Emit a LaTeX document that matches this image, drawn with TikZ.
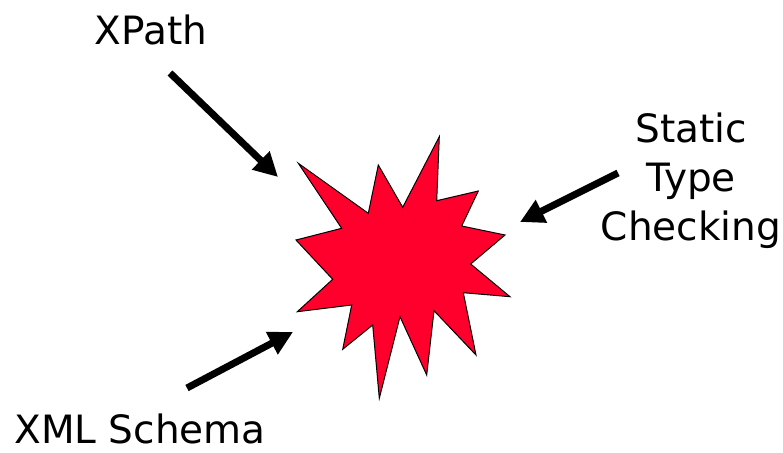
\documentclass[tikz,border=0pt]{standalone}
\usepackage{fontspec}
\setmainfont{DejaVu Sans}
\usetikzlibrary{arrows.meta}
\definecolor{burstred}{RGB}{255,0,45}
\begin{document}
\begin{tikzpicture}[x=1pt,y=-1pt,>={Triangle[length=24pt,width=24pt]}, font=\fontsize{39}{49}\selectfont, line join=miter]
	\useasboundingbox (0,0) rectangle (783,452);
	% the burst
	\draw[fill=burstred,line width=1pt] (298.3,163.3)--(368.3,213.3)--(378.3,165)--(402.7,207.3)--(439.3,136.7)--(436.7,200.7)--(478.3,191)--(461.7,226)--(505,235)--(470.7,264)--(510,296.7)--(463.3,292.7)--(476,355)--(434,310.7)--(426.7,375)--(400,316.7)--(379.3,398.3)--(372.7,325)--(342.7,349.3)--(351.7,305)--(297.3,311.7)--(332.7,279.3)--(296,240)--(341.7,228.3)--cycle;
	% labels
	\node[anchor=base] (xpath) at (151,45) {XPath};
	\node[anchor=base] (schema) at (140,443) {XML Schema};
	\node[align=center,inner sep=0pt] (stc) at (691,181) {Static\\Type\\Checking};
	% arrows
	\coordinate (xpathtail) at (170,73); \coordinate (xpathtip) at (278,177);
	\coordinate (stctail) at (618,173); \coordinate (stctip) at (520,222);
	\coordinate (schematail) at (187,388); \coordinate (schematip) at (293,332);
	\draw[->,line width=7pt] (xpathtail)--(xpathtip);
	\draw[->,line width=7pt] (stctail)--(stctip);
	\draw[->,line width=7pt] (schematail)--(schematip);
\end{tikzpicture}
\end{document}
